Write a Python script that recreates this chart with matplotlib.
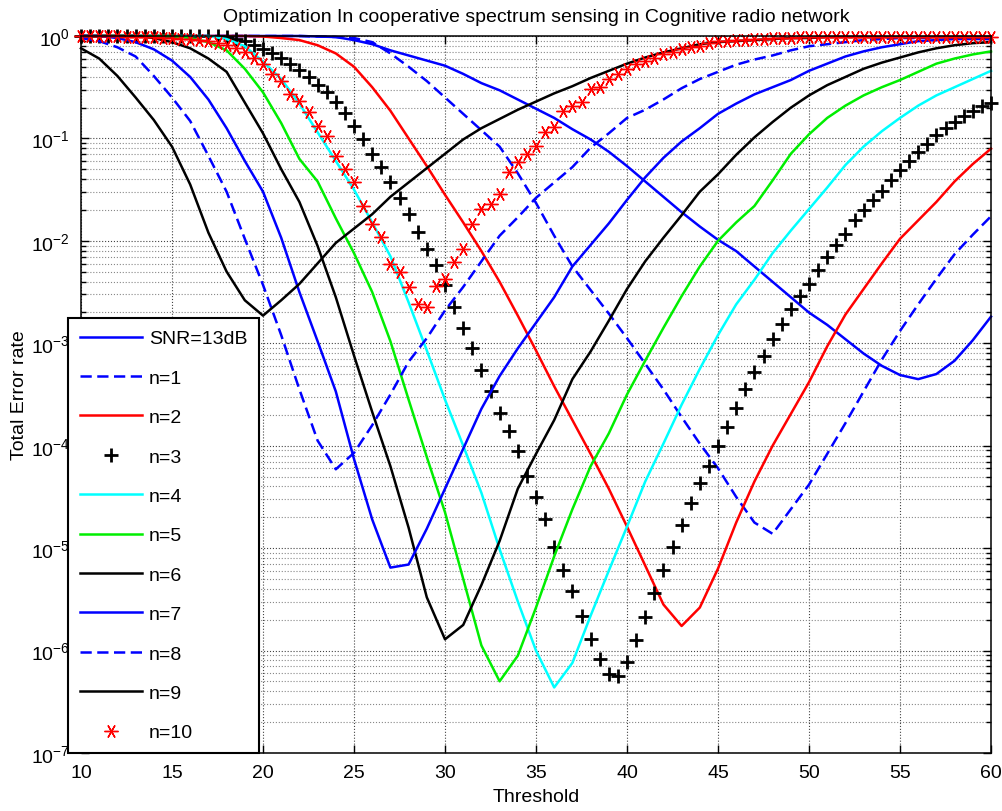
import numpy as np
import matplotlib
matplotlib.use("Agg")
import matplotlib.pyplot as plt

plt.rcParams['font.family'] = ['Liberation Sans', 'DejaVu Sans']
plt.rcParams['mathtext.fontset'] = 'custom'
plt.rcParams['mathtext.rm'] = 'Liberation Sans'
plt.rcParams['mathtext.default'] = 'regular'

# thresholds (lines sampled every 1, marker series every 0.5)
t_line = np.arange(10, 61, 1)
t_mark = np.arange(10, 60.5, 0.5)

# log10 of total error rate
snr13_log = [0, 0, 0, 0, 0, 0, 0, 0, 0, 0, 0, 0, 0,
             -0.005, -0.01, -0.04, -0.08, -0.14, -0.19, -0.24, -0.29, -0.37, -0.46,
             -0.53, -0.62, -0.71, -0.80, -0.91, -1.01, -1.13, -1.27, -1.42, -1.57,
             -1.72, -1.86, -1.99, -2.10, -2.25, -2.40, -2.55, -2.70, -2.82, -2.96,
             -3.10, -3.22, -3.31, -3.35, -3.30, -3.17, -2.97, -2.74]
n1_log = [0, 0, 0, 0, 0, 0, 0, 0, 0, 0, 0, 0, 0,
          -0.005, -0.01, -0.02, -0.06, -0.17, -0.30, -0.44, -0.60, -0.76, -0.92,
          -1.08, -1.34, -1.63, -1.95, -2.25, -2.48, -2.71, -2.95, -3.20, -3.45,
          -3.72, -3.98, -4.22, -4.50, -4.75, -4.86, -4.62, -4.38, -4.08, -3.78,
          -3.47, -3.16, -2.88, -2.62, -2.37, -2.13, -1.94, -1.76]
n2_log = [0, 0, 0, 0, 0, 0, 0, 0, 0, 0,
          -0.005, -0.02, -0.04, -0.09, -0.17, -0.30, -0.50, -0.73, -1.00, -1.27,
          -1.55, -1.82, -2.10, -2.40, -2.73, -3.07, -3.42, -3.75, -4.08, -4.42,
          -4.79, -5.17, -5.55, -5.76, -5.58, -5.20, -4.75, -4.35, -4.00, -3.69,
          -3.38, -3.03, -2.72, -2.47, -2.22, -1.98, -1.80, -1.62, -1.42, -1.25,
          -1.10]
n3_log = [0, 0, 0, 0, 0, 0, 0, 0, 0, 0,
          0, 0, 0, 0, 0, 0, -0.01, -0.03, -0.05, -0.09,
          -0.13, -0.17, -0.21, -0.27, -0.33, -0.40, -0.48, -0.55, -0.64, -0.75,
          -0.88, -1.01, -1.15, -1.28, -1.43, -1.58, -1.74, -1.91, -2.08, -2.24,
          -2.43, -2.65, -2.85, -3.05, -3.26, -3.47, -3.68, -3.86, -4.05, -4.30,
          -4.50, -4.72, -4.99, -5.21, -5.42, -5.66, -5.89, -6.08, -6.23, -6.25,
          -6.11, -5.90, -5.67, -5.44, -5.21, -4.99, -4.77, -4.56, -4.36, -4.20,
          -4.00, -3.82, -3.63, -3.45, -3.28, -3.12, -2.96, -2.81, -2.67, -2.54,
          -2.42, -2.28, -2.16, -2.04, -1.93, -1.80, -1.70, -1.60, -1.51, -1.41,
          -1.31, -1.22, -1.13, -1.05, -0.97, -0.90, -0.84, -0.78, -0.73, -0.68,
          -0.65]
n4_log = [0, 0, 0, 0, 0, 0, 0, 0,
          -0.03, -0.10, -0.25, -0.42, -0.66, -0.94, -1.22, -1.50, -1.82, -2.15,
          -2.60, -3.07, -3.55, -4.00, -4.46, -5.01, -5.52, -6.00, -6.36, -6.12,
          -5.66, -5.22, -4.79, -4.35, -3.98, -3.60, -3.25, -2.92, -2.62, -2.38,
          -2.12, -1.90, -1.69, -1.48, -1.26, -1.08, -0.93, -0.80, -0.68, -0.58,
          -0.50, -0.42, -0.34]
n5_log = [0, 0, 0, 0, 0, 0,
          -0.02, -0.06, -0.14, -0.32, -0.55, -0.85, -1.20, -1.42, -1.78, -2.12,
          -2.50, -2.98, -3.55, -4.11, -4.65, -5.30, -5.95, -6.30, -6.05, -5.58,
          -5.08, -4.62, -4.20, -3.88, -3.50, -3.17, -2.85, -2.54, -2.25, -2.00,
          -1.82, -1.66, -1.41, -1.15, -0.96, -0.80, -0.68, -0.58, -0.50, -0.43,
          -0.35, -0.27, -0.22, -0.18, -0.15]
n6_log = [0, 0, 0, 0,
          -0.02, -0.06, -0.12, -0.22, -0.35, -0.65, -0.95, -1.30, -1.62, -2.05,
          -2.55, -3.12, -3.67, -4.20, -4.80, -5.48, -5.89, -5.75, -5.36, -4.93,
          -4.42, -4.08, -3.75, -3.35, -3.08, -2.78, -2.47, -2.20, -1.97, -1.75,
          -1.52, -1.35, -1.16, -0.99, -0.84, -0.70, -0.58, -0.48, -0.40, -0.32,
          -0.26, -0.21, -0.16, -0.12, -0.09, -0.07, -0.06]
n7_log = [0, 0,
          -0.02, -0.06, -0.13, -0.24, -0.40, -0.62, -0.90, -1.22, -1.52, -1.97,
          -2.50, -2.98, -3.47, -4.13, -4.72, -5.19, -5.16, -4.81, -4.42, -4.03,
          -3.64, -3.32, -3.05, -2.80, -2.55, -2.25, -2.04, -1.83, -1.60, -1.38,
          -1.19, -1.03, -0.90, -0.76, -0.66, -0.57, -0.50, -0.43, -0.34, -0.27,
          -0.20, -0.15, -0.11, -0.08, -0.05, -0.04, -0.03, -0.03, -0.03]
n8_log = [-0.02, -0.05, -0.11, -0.20, -0.39, -0.60, -0.83, -1.17, -1.52, -1.98,
          -2.43, -2.92, -3.45, -3.95, -4.23, -4.07, -3.80, -3.50, -3.18, -2.95,
          -2.68, -2.45, -2.20, -1.95, -1.77, -1.58, -1.43, -1.28, -1.09, -0.95,
          -0.80, -0.72, -0.62, -0.51, -0.42, -0.35, -0.28, -0.23, -0.19, -0.14,
          -0.10, -0.08, -0.06, -0.04, -0.03, -0.02, -0.02, -0.01, -0.01, -0.01,
          -0.01]
n9_log = [-0.12, -0.22, -0.39, -0.60, -0.82, -1.08, -1.45, -1.92, -2.30, -2.58,
          -2.73, -2.58, -2.42, -2.22, -2.02, -1.88, -1.74, -1.57, -1.43, -1.29,
          -1.15, -1.01, -0.90, -0.81, -0.72, -0.64, -0.56, -0.49, -0.41, -0.34,
          -0.27, -0.21, -0.16, -0.12, -0.08, -0.06, -0.05, -0.04, -0.03, -0.02,
          -0.02, -0.01, -0.01, -0.01, -0.01, -0.01, -0.01, -0.01, -0.01, -0.01,
          -0.01]
n10_log = [0, 0, 0, 0, 0, -0.005, -0.005, -0.01, -0.01, -0.015,
           -0.02, -0.025, -0.03, -0.04, -0.05, -0.07, -0.09, -0.12, -0.16, -0.21,
           -0.27, -0.37, -0.44, -0.57, -0.63, -0.74, -0.88, -0.98, -1.17, -1.30,
           -1.43, -1.66, -1.84, -1.96, -2.23, -2.30, -2.45, -2.62, -2.65, -2.44,
           -2.37, -2.21, -2.08, -1.84, -1.69, -1.64, -1.54, -1.33, -1.23, -1.15,
           -1.07, -0.94, -0.89, -0.73, -0.68, -0.64, -0.52, -0.50, -0.42, -0.37,
           -0.32, -0.27, -0.24, -0.21, -0.18, -0.16, -0.13, -0.11, -0.10, -0.07,
           -0.05, -0.045, -0.04, -0.035, -0.03, -0.025, -0.02, -0.02, -0.015, -0.01,
           -0.01, -0.005, -0.005, -0.005, -0.005, -0.005, -0.005, -0.005, -0.005, -0.005,
           -0.005, -0.005, -0.005, -0.005, -0.005, -0.005, -0.005, -0.005, -0.005, -0.005,
           -0.005]

labels = ['SNR=13dB', 'n=1', 'n=2', 'n=3', 'n=4', 'n=5', 'n=6', 'n=7', 'n=8', 'n=9', 'n=10']

fs = 14
fig = plt.figure(figsize=(10.03, 8.12), dpi=100)
ax = fig.add_axes([81/1003, 1 - 754/812, (991 - 81)/1003, (754 - 37)/812])

lw = 1.8
dash = (4.5, 2.2)
h = []
h += ax.plot(t_line, 10**np.array(snr13_log), color='#0000ff', lw=lw)
h += ax.plot(t_line, 10**np.array(n1_log), color='#0000ff', lw=lw, ls='--', dashes=dash)
h += ax.plot(t_line, 10**np.array(n2_log), color='#ff0000', lw=lw)
h += ax.plot(t_mark, 10**np.array(n3_log), color='k', ls='none', marker='+', ms=10, mew=2)
h += ax.plot(t_line, 10**np.array(n4_log), color='#00ffff', lw=lw)
h += ax.plot(t_line, 10**np.array(n5_log), color='#00ee00', lw=lw)
h += ax.plot(t_line, 10**np.array(n6_log), color='k', lw=lw)
h += ax.plot(t_line, 10**np.array(n7_log), color='#0000ff', lw=lw)
h += ax.plot(t_line, 10**np.array(n8_log), color='#0000ff', lw=lw, ls='--', dashes=dash)
h += ax.plot(t_line, 10**np.array(n9_log), color='k', lw=lw)
h += ax.plot(t_mark, 10**np.array(n10_log), color='#ff0000', ls='none', marker=(6, 2, 90), ms=10, mew=1)
for ln in h:
    ln.set_clip_on(False)

ax.set_yscale('log')
ax.set_xlim(10, 60)
ax.set_ylim(1e-7, 1)
ax.set_xticks(np.arange(10, 61, 5))
ax.set_yticks([10.0**k for k in range(-7, 1)])

ax.grid(True, which='major', ls=':', color='#444444', lw=0.8)
ax.grid(True, which='minor', axis='y', ls=':', color='#888888', lw=0.8)
ax.tick_params(which='both', direction='in', top=True, right=True, labelsize=fs, width=1)
ax.tick_params(which='major', length=6, pad=8)
ax.tick_params(which='minor', length=3.5)
for s in ax.spines.values():
    s.set_linewidth(1.1)

ax.set_title('Optimization In cooperative spectrum sensing in Cognitive radio network', fontsize=fs, pad=11)
ax.set_xlabel('Threshold', fontsize=fs, labelpad=5)
ax.set_ylabel('Total Error rate', fontsize=fs, labelpad=2)

leg = fig.legend(h, labels, loc='lower left', bbox_to_anchor=(68/1003, 1 - 754/812),
                 bbox_transform=fig.transFigure, fontsize=fs, frameon=True, fancybox=False,
                 edgecolor='k', framealpha=1, handlelength=3.2, handletextpad=0.35,
                 labelspacing=1.12, borderpad=0.6, borderaxespad=0)
leg.get_frame().set_linewidth(1.5)

fig.savefig('out.png', dpi=100)
